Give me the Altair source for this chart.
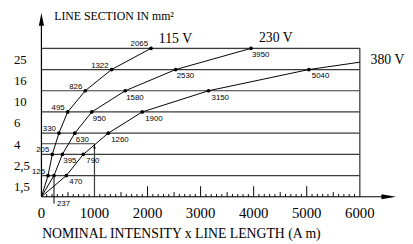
import altair as alt
import pandas as pd

# ---- data ----
sections = ["1,5", "2,5", "4", "6", "10", "16", "25"]          # mm², one band each
series_names = ["115 V", "230 V", "380 V"]
v115 = [125, 205, 330, 495, 826, 1322, 2065]                  # A·m at top of each band
v230 = [237, 395, 630, 950, 1580, 2530, 3950]
v380 = [470, 790, 1260, 1900, 3150, 5040, 7800]               # last one runs off the frame
x_ticks = [0, 1000, 2000, 3000, 4000, 5000, 6000]
example_length = 1000
example_level = 2.5
X_MAX = 6000

title_text = "LINE SECTION IN mm²"
x_title = "NOMINAL INTENSITY x LINE LENGTH (A m)"

# ---- layout ----
W, H = 324, 151
PX_X = W / X_MAX
PX_Y = H / len(sections)
def ux(px): return px / PX_X
def uy(px): return px / PX_Y

SERIF = "Liberation Serif"
SANS = "Liberation Sans"
GRID = "#3a3a3a"

xs = alt.Scale(domain=[0, X_MAX], nice=False, zero=False)
ys = alt.Scale(domain=[0, len(sections)], nice=False, zero=False)

def X(f, **kw):
    return alt.X(f, type="quantitative", scale=xs, axis=None, **kw)

def Y(f, **kw):
    return alt.Y(f, type="quantitative", scale=ys, axis=None, **kw)

# curve table: origin then one point per band top
rows = []
for name, vals in zip(series_names, [v115, v230, v380]):
    rows.append({"series": name, "length": 0, "level": 0, "order": 0})
    for i, v in enumerate(vals):
        rows.append({"series": name, "length": v, "level": i + 1, "order": i + 1})
curves = pd.DataFrame(rows)

levels = pd.DataFrame({"level": list(range(1, len(sections) + 1)), "x0": 0, "x1": X_MAX})
ylab = pd.DataFrame({"sec": sections, "mid": [i + 0.5 for i in range(len(sections))]})
ticks_df = pd.DataFrame(
    [{"x": t, "h": uy(2.7)} for t in range(100, X_MAX, 100) if t % 500]
    + [{"x": t, "h": uy(4.7)} for t in range(500, X_MAX, 1000)]
    + [{"x": t, "h": uy(10.7)} for t in range(2000, X_MAX, 1000)]
)
ticks_df["y0"] = 0
axis_df = pd.DataFrame({"x": x_ticks, "y": 0})

Y_TOP = uy(187)
X_END = ux(361)

# invisible axis layer (keeps the layer's guide structure valid)
axis_layer = alt.Chart(axis_df).mark_point(opacity=0).encode(
    x=alt.X("x:Q", scale=xs, axis=alt.Axis(
        values=x_ticks, domain=False, ticks=False, grid=False,
        labelOpacity=0, title=" ", titleOpacity=0)),
    y=Y("y"),
)

xlabels = alt.Chart(axis_df).mark_text(
    align="center", baseline="alphabetic", dy=22, font=SERIF, fontSize=15, color="black").encode(
    x=X("x"), y=Y("y"), text=alt.Text("x:Q", format="d"))

xtitle = alt.Chart(pd.DataFrame({"x": [ux(142.5)], "y": [0], "t": [x_title]})).mark_text(
    align="center", baseline="alphabetic", dy=42, font=SERIF, fontSize=14, color="black").encode(
    x=X("x"), y=Y("y"), text="t:N")

grid = alt.Chart(levels).mark_rule(color=GRID, strokeWidth=1.2).encode(
    x=X("x0"), x2="x1", y=Y("level"))

border = alt.Chart(pd.DataFrame({"x": [X_MAX], "y0": [0], "y1": [len(sections)]})).mark_rule(
    color=GRID, strokeWidth=1.2).encode(x=X("x"), y=Y("y0"), y2="y1")

xaxis_line = alt.Chart(pd.DataFrame({"x0": [0], "x1": [X_END - ux(6)], "y": [0]})).mark_rule(
    color="black", strokeWidth=1.2).encode(x=X("x0"), x2="x1", y=Y("y"))
yaxis_line = alt.Chart(pd.DataFrame({"x": [0], "y0": [0], "y1": [Y_TOP - uy(6)]})).mark_rule(
    color="black", strokeWidth=1.2).encode(x=X("x"), y=Y("y0"), y2="y1")

y_arrow = alt.Chart(pd.DataFrame({"x": [0], "y": [Y_TOP]})).mark_point(
    shape="M0,0L0.4,2L-0.4,2Z", size=169, filled=True, color="black", opacity=1).encode(
    x=X("x"), y=Y("y"))
x_arrow = alt.Chart(pd.DataFrame({"x": [X_END], "y": [0]})).mark_point(
    shape="M0,0L-2,-0.33L-2,0.33Z", size=225, filled=True, color="black", opacity=1).encode(
    x=X("x"), y=Y("y"))

ticks = alt.Chart(ticks_df).mark_rule(color="black", strokeWidth=1).encode(
    x=X("x"), y=Y("y0"), y2="h")

ex_df = pd.DataFrame({"x": [example_length], "y": [example_level], "z": [0]})
ex_v = alt.Chart(ex_df).mark_rule(color=GRID, strokeWidth=1.2).encode(
    x=X("x"), y=Y("z"), y2="y")
ex_h = alt.Chart(ex_df).mark_rule(color=GRID, strokeWidth=1).encode(
    x=X("z"), x2="x", y=Y("y"))
ex_arrow = alt.Chart(ex_df).mark_point(
    shape="M0,0L0.45,2L-0.45,2Z", size=25, filled=True, color="black", opacity=1).encode(
    x=X("x"), y=Y("y"))

lead_df = pd.DataFrame({"x": [v230[0]], "y0": [1], "y1": [-uy(7)]})
lead = alt.Chart(lead_df).mark_rule(color="black", strokeWidth=1).encode(
    x=X("x"), y=Y("y0"), y2="y1")
lead_txt = alt.Chart(lead_df).mark_text(
    align="left", baseline="middle", dx=3, font=SANS, fontSize=8, color="black").encode(
    x=X("x"), y=Y("y1"), text=alt.Text("x:Q", format="d"))

lines = alt.Chart(curves).mark_line(color="black", strokeWidth=1, clip=True).encode(
    x=X("length"), y=Y("level"), detail="series:N", order="order:Q")

pts = alt.Chart(curves).transform_filter(
    (alt.datum.length > 0) & (alt.datum.length <= X_MAX)).mark_circle(
    size=14, color="black", opacity=1).encode(x=X("length"), y=Y("level"))

def labels(name, cond, **style):
    return alt.Chart(curves).transform_filter(
        (alt.datum.series == name) & (alt.datum.length <= X_MAX) & cond).mark_text(
        font=SANS, fontSize=8, color="black", **style).encode(
        x=X("length"), y=Y("level"), text=alt.Text("length:Q", format="d"))

lab115 = labels("115 V", alt.datum.level >= 1, align="right", baseline="alphabetic", dx=-3, dy=-2)
lab230 = labels("230 V", alt.datum.level >= 2, align="left", baseline="top", dx=1, dy=3)
lab380 = labels("380 V", alt.datum.level >= 1, align="left", baseline="top", dx=3, dy=3)

def sname(text, x, y, dx, dy):
    return alt.Chart(pd.DataFrame({"x": [x], "y": [y], "t": [text]})).mark_text(
        align="left", baseline="alphabetic", dx=dx, dy=dy, font=SERIF, fontSize=14,
        color="black").encode(x=X("x"), y=Y("y"), text="t:N")

n115 = sname(series_names[0], v115[-1], len(sections), 8, -5)
n230 = sname(series_names[1], v230[-1], len(sections), 8, -6)
n380 = sname(series_names[2], X_MAX, len(sections) - 1, 11, -6)

ytext = alt.Chart(ylab).mark_text(
    align="left", baseline="middle", dx=-28, dy=1, font=SERIF, fontSize=13, color="black").encode(
    x=alt.datum(0, type="quantitative", scale=xs), y=Y("mid"), text="sec:N")

title = alt.Chart(pd.DataFrame({"x": [0], "y": [len(sections)], "t": [title_text]})).mark_text(
    align="left", baseline="alphabetic", dx=13, dy=-29, font=SERIF, fontSize=12,
    color="black").encode(x=X("x"), y=Y("y"), text="t:N")

chart = alt.layer(
    axis_layer, grid, border, ticks, ex_h, ex_v, ex_arrow, lead, lead_txt,
    lines, pts, lab115, lab230, lab380, n115, n230, n380,
    xaxis_line, yaxis_line, x_arrow, y_arrow, ytext, title, xlabels, xtitle,
).properties(
    width=W, height=H, autosize="none",
    padding={"left": 34, "top": 39, "right": 46, "bottom": 45},
).configure_view(stroke=None).configure(background="white")

chart.save("out.html", embed_options={"renderer": "svg", "actions": False})
